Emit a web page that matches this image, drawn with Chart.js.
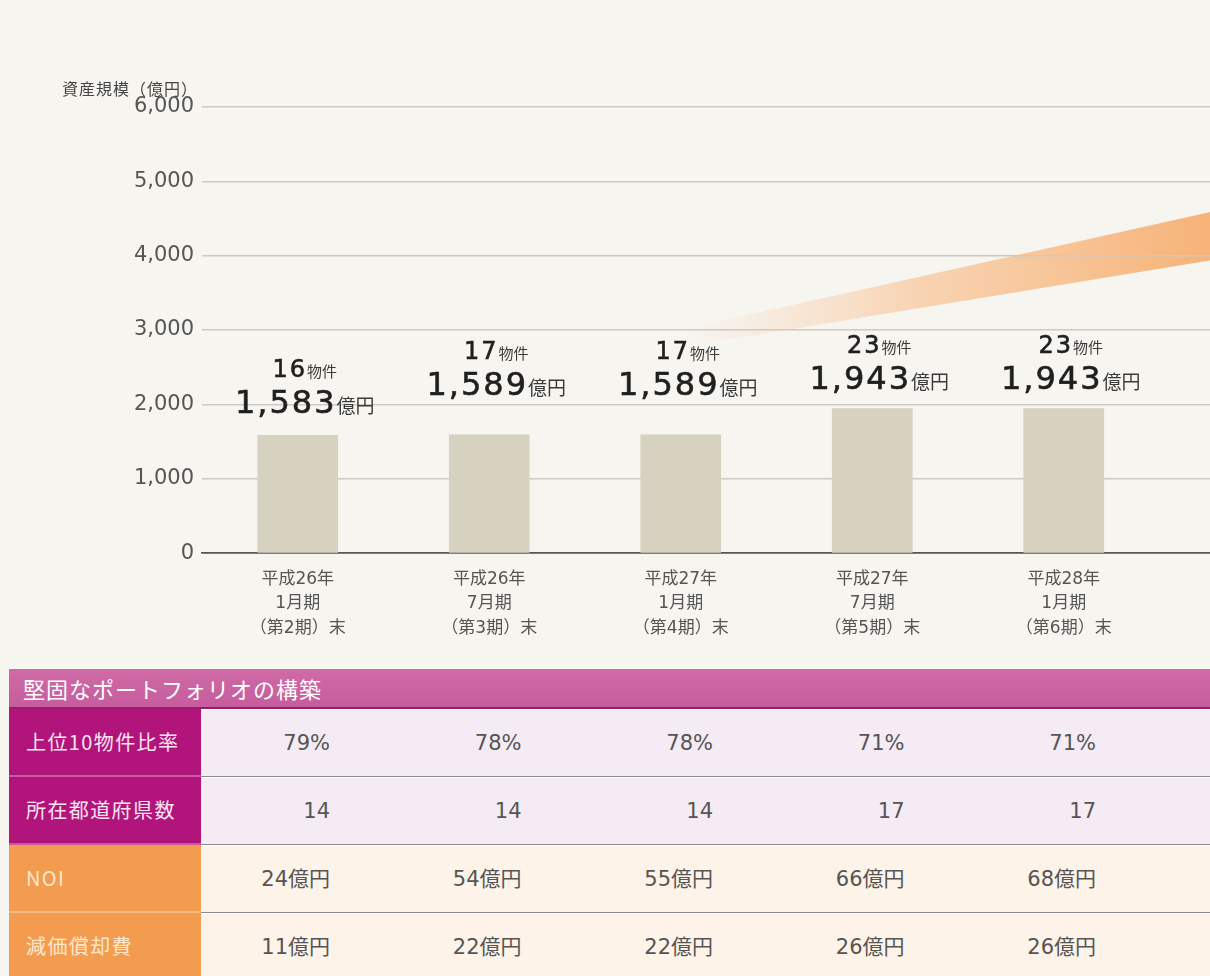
<!DOCTYPE html>
<html lang="ja">
<head>
<meta charset="utf-8">
<title>資産規模の推移</title>
<script src="https://cdn.jsdelivr.net/npm/chart.js@4.4.1/dist/chart.umd.min.js"></script>
<style>
    html, body { margin: 0; padding: 0; }
    body {
        width: 1210px; height: 976px; overflow: hidden; position: relative;
        background: #f7f5f0;
        font-family: "DejaVu Sans", "Noto Sans CJK JP", sans-serif;
    }
    #chartBox { position: absolute; left: 0; top: 0; width: 1351px; height: 647px; }
    #axisTitle {
        position: absolute; left: 62px; top: 78px;
        font-family: "Noto Sans CJK JP", sans-serif; font-size: 16px; letter-spacing: 1px;
        line-height: 20px; color: #444;
    }
    #tableBox { position: absolute; left: 9px; top: 669px; width: 1400px; }
    .head {
        height: 38px; line-height: 38px; padding-left: 14px;
        background: linear-gradient(#cf6ba6, #c65c9d);
        border-bottom: 2px solid #9c1a6b;
        color: #fff; font-family: "Noto Sans CJK JP", sans-serif;
        font-size: 22px; letter-spacing: 1px;
    }
    .row { display: flex; height: 68px; }
    .label {
        width: 175px; padding-left: 17px; height: 66px; line-height: 66px;
        border-bottom: 2px solid rgba(255,255,255,0.3);
        font-family: "Noto Sans CJK JP", sans-serif; font-size: 20px; letter-spacing: 1.4px;
    }
    .cell {
        width: 191.5px; box-sizing: border-box; padding-right: 62.5px; text-align: right;
        height: 68px; line-height: 66px; font-size: 21px; color: #555;
        border-bottom: 1px solid #8d8d8d; border-top: 1px solid #fff;
    }
    .purple .label { background: #b1147a; color: #fbe4f2; }
    .purple .cell { background: #f4ebf4; }
    .orange .label { background: #f39b4f; color: #fde7cd; }
    .orange .cell { background: #fdf3e8; }
</style>
</head>
<body>
<div id="chartBox"><canvas id="assetChart"></canvas></div>
<div id="axisTitle">資産規模（億円）</div>
<div id="tableBox">
    <div class="head">堅固なポートフォリオの構築</div>
    <div id="tableRows"></div>
</div>

<script>
// --- Données ---
const periods = [
    ["平成26年", "1月期", "（第2期）末"],
    ["平成26年", "7月期", "（第3期）末"],
    ["平成27年", "1月期", "（第4期）末"],
    ["平成27年", "7月期", "（第5期）末"],
    ["平成28年", "1月期", "（第6期）末"]
];
const assetSize = [1583, 1589, 1589, 1943, 1943];      // 億円
const propertyCounts = [16, 17, 17, 23, 23];           // 物件
const yTicks = [0, 1000, 2000, 3000, 4000, 5000, 6000];

const top10Ratio = [79, 78, 78, 71, 71];               // %
const prefectureCount = [14, 14, 14, 17, 17];
const noi = [24, 54, 55, 66, 68];                      // 億円
const depreciation = [11, 22, 22, 26, 26];             // 億円

const NUM_FONT = '"DejaVu Sans", "Noto Sans CJK JP", sans-serif';
const JP_FONT = '"Noto Sans CJK JP", sans-serif';

// --- Tableau sous le graphique ---
const tableRows = [
    { name: "上位10物件比率", values: top10Ratio.map(v => v + "%"), cls: "purple" },
    { name: "所在都道府県数", values: prefectureCount.map(String), cls: "purple" },
    { name: "NOI", values: noi.map(v => v + "億円"), cls: "orange" },
    { name: "減価償却費", values: depreciation.map(v => v + "億円"), cls: "orange" }
];
const rowsBox = document.getElementById("tableRows");
tableRows.forEach(r => {
    const row = document.createElement("div");
    row.className = "row " + r.cls;
    row.innerHTML = `<div class="label">${r.name}</div>` +
        r.values.map(v => `<div class="cell">${v}</div>`).join("") +
        `<div class="cell"></div>`;
    rowsBox.appendChild(row);
});

// Bande orange (flèche de croissance) derrière la grille
const trendBand = {
    id: "trendBand",
    beforeDraw(chart) {
        const { ctx, scales: { x, y } } = chart;
        const x0 = x.getPixelForValue(2.05), x1 = x.getPixelForValue(4.77);
        const t0 = y.getPixelForValue(3030), t1 = y.getPixelForValue(4590);
        const b0 = y.getPixelForValue(2790), b1 = y.getPixelForValue(3940);
        const xe = chart.width;
        const k = (xe - x0) / (x1 - x0);
        const g = ctx.createLinearGradient(x0, 0, x1, 0);
        g.addColorStop(0, "rgba(250,195,150,0)");
        g.addColorStop(0.45, "rgba(248,182,125,0.55)");
        g.addColorStop(1, "rgba(246,172,108,0.92)");
        ctx.save();
        ctx.fillStyle = g;
        ctx.beginPath();
        ctx.moveTo(x0, t0);
        ctx.lineTo(xe, t0 + (t1 - t0) * k);
        ctx.lineTo(xe, b0 + (b1 - b0) * k);
        ctx.lineTo(x0, b0);
        ctx.closePath();
        ctx.fill();
        ctx.restore();
    }
};

// Étiquettes au-dessus des barres : "16物件" / "1,583億円"
const labelLift = [0, 18, 18, -2, -2];
function drawPair(ctx, cx, y, big, small, bigSize, smallSize, spacing) {
    ctx.save();
    ctx.letterSpacing = spacing + "px";
    ctx.font = `${bigSize}px ${NUM_FONT}`;
    const w1 = ctx.measureText(big).width;
    ctx.letterSpacing = "0px";
    ctx.font = `${smallSize}px ${JP_FONT}`;
    const w2 = ctx.measureText(small).width;
    const x = cx - (w1 + w2) / 2;
    ctx.textAlign = "left";
    ctx.textBaseline = "alphabetic";
    ctx.fillStyle = "#1f1f1f";
    ctx.strokeStyle = "#1f1f1f";
    ctx.lineWidth = 0.6;
    ctx.letterSpacing = spacing + "px";
    ctx.font = `${bigSize}px ${NUM_FONT}`;
    ctx.fillText(big, x, y);
    ctx.strokeText(big, x, y);
    ctx.letterSpacing = "0px";
    ctx.fillStyle = "#3a3a3a";
    ctx.font = `${smallSize}px ${JP_FONT}`;
    ctx.fillText(small, x + w1, y);
    ctx.restore();
}
const barLabels = {
    id: "barLabels",
    afterDatasetsDraw(chart) {
        const ctx = chart.ctx;
        chart.getDatasetMeta(0).data.forEach((bar, i) => {
            const base = bar.y - 22 - labelLift[i];
            const cx = bar.x + 7;
            drawPair(ctx, cx, base, assetSize[i].toLocaleString("en-US"), "億円", 32, 19, 2);
            drawPair(ctx, cx, base - 36, String(propertyCounts[i]), "物件", 24, 15, 2);
        });
    }
};

new Chart(document.getElementById("assetChart"), {
    type: "bar",
    data: {
        labels: [...periods, ""],   // une case vide : la colonne suivante est coupée à droite
        datasets: [{
            data: assetSize,
            backgroundColor: "#d6d2bf",
            barThickness: 80
        }]
    },
    options: {
        responsive: true,
        maintainAspectRatio: false,
        animation: false,
        layout: { padding: { top: 107, left: 0, right: 0, bottom: 0 } },
        plugins: { legend: { display: false }, tooltip: { enabled: false } },
        scales: {
            x: {
                grid: { display: false },
                border: { display: true, color: "#555", width: 1.5 },
                ticks: {
                    color: "#555", padding: 6, autoSkip: false, maxRotation: 0,
                    font: { family: NUM_FONT, size: 17, lineHeight: 1.45 }
                }
            },
            y: {
                min: yTicks[0],
                max: yTicks[yTicks.length - 1],
                afterBuildTicks(scale) { scale.ticks = yTicks.map(v => ({ value: v })); },
                afterFit(scale) { scale.width = 202; },
                border: { display: false },
                grid: {
                    drawTicks: false,
                    color: c => c.tick.value === 0 ? "#555" : "#cdcac3",
                    lineWidth: 1.5
                },
                ticks: {
                    color: "#555", padding: 8,
                    font: { family: NUM_FONT, size: 21 },
                    callback: v => v.toLocaleString("en-US")
                }
            }
        }
    },
    plugins: [trendBand, barLabels]
});
</script>
</body>
</html>
